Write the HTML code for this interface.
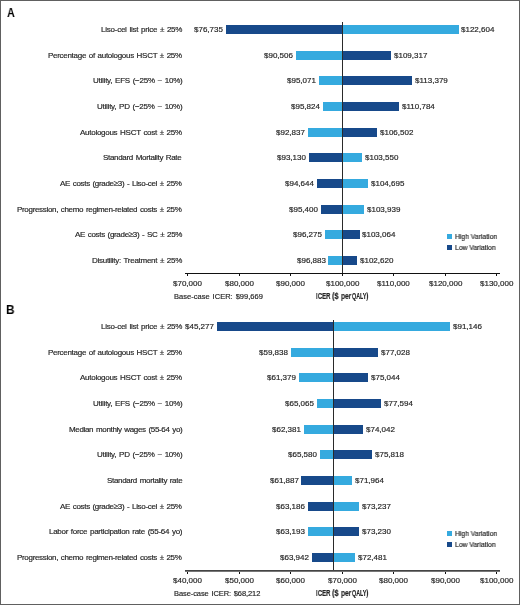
<!DOCTYPE html>
<html><head><meta charset="utf-8"><style>
html,body{margin:0;padding:0;background:#fff;}
body{width:520px;height:605px;position:relative;overflow:hidden;font-family:"Liberation Sans",sans-serif;}
.t{position:absolute;white-space:nowrap;line-height:20px;transform-origin:0 0;will-change:transform;-webkit-text-stroke:0.18px #262626;}
.r{position:absolute;}
.frame{position:absolute;left:0;top:0;width:518px;height:603px;border:1px solid #606060;}
</style></head><body>
<div class="r" style="left:226.02px;top:25.00px;width:116.28px;height:9.00px;background:#17498a"></div>
<div class="r" style="left:342.30px;top:25.00px;width:116.28px;height:9.00px;background:#35aadf"></div>
<div class="r" style="left:295.84px;top:51.00px;width:46.46px;height:9.00px;background:#35aadf"></div>
<div class="r" style="left:342.30px;top:51.00px;width:48.92px;height:9.00px;background:#17498a"></div>
<div class="r" style="left:318.99px;top:76.00px;width:23.31px;height:9.00px;background:#35aadf"></div>
<div class="r" style="left:342.30px;top:76.00px;width:69.51px;height:9.00px;background:#17498a"></div>
<div class="r" style="left:322.81px;top:102.00px;width:19.49px;height:9.00px;background:#35aadf"></div>
<div class="r" style="left:342.30px;top:102.00px;width:56.35px;height:9.00px;background:#17498a"></div>
<div class="r" style="left:307.66px;top:128.00px;width:34.64px;height:9.00px;background:#35aadf"></div>
<div class="r" style="left:342.30px;top:128.00px;width:34.64px;height:9.00px;background:#17498a"></div>
<div class="r" style="left:309.15px;top:153.00px;width:33.15px;height:9.00px;background:#17498a"></div>
<div class="r" style="left:342.30px;top:153.00px;width:19.68px;height:9.00px;background:#35aadf"></div>
<div class="r" style="left:316.82px;top:179.00px;width:25.48px;height:9.00px;background:#17498a"></div>
<div class="r" style="left:342.30px;top:179.00px;width:25.48px;height:9.00px;background:#35aadf"></div>
<div class="r" style="left:320.66px;top:205.00px;width:21.64px;height:9.00px;background:#17498a"></div>
<div class="r" style="left:342.30px;top:205.00px;width:21.65px;height:9.00px;background:#35aadf"></div>
<div class="r" style="left:325.09px;top:230.00px;width:17.21px;height:9.00px;background:#35aadf"></div>
<div class="r" style="left:342.30px;top:230.00px;width:17.21px;height:9.00px;background:#17498a"></div>
<div class="r" style="left:328.17px;top:256.00px;width:14.13px;height:9.00px;background:#35aadf"></div>
<div class="r" style="left:342.30px;top:256.00px;width:14.96px;height:9.00px;background:#17498a"></div>
<div class="r" style="left:342.00px;top:22.00px;width:1.00px;height:251.00px;background:#2a2a2a"></div>
<div class="r" style="left:185.00px;top:273.00px;width:315.00px;height:1.00px;background:#111"></div>
<div class="r" style="left:187.00px;top:274.00px;width:1.00px;height:2.00px;background:#111"></div>
<div class="r" style="left:239.00px;top:274.00px;width:1.00px;height:2.00px;background:#111"></div>
<div class="r" style="left:290.00px;top:274.00px;width:1.00px;height:2.00px;background:#111"></div>
<div class="r" style="left:342.00px;top:274.00px;width:1.00px;height:2.00px;background:#111"></div>
<div class="r" style="left:393.00px;top:274.00px;width:1.00px;height:2.00px;background:#111"></div>
<div class="r" style="left:445.00px;top:274.00px;width:1.00px;height:2.00px;background:#111"></div>
<div class="r" style="left:496.00px;top:274.00px;width:1.00px;height:2.00px;background:#111"></div>
<div class="r" style="left:446.60px;top:234.00px;width:5.00px;height:5.00px;background:#35aadf"></div>
<div class="r" style="left:446.60px;top:244.50px;width:5.00px;height:5.00px;background:#17498a"></div>
<div class="r" style="left:216.79px;top:322.00px;width:116.51px;height:9.00px;background:#17498a"></div>
<div class="r" style="left:333.30px;top:322.00px;width:116.50px;height:9.00px;background:#35aadf"></div>
<div class="r" style="left:290.76px;top:348.00px;width:42.54px;height:9.00px;background:#35aadf"></div>
<div class="r" style="left:333.30px;top:348.00px;width:44.79px;height:9.00px;background:#17498a"></div>
<div class="r" style="left:298.59px;top:373.00px;width:34.71px;height:9.00px;background:#35aadf"></div>
<div class="r" style="left:333.30px;top:373.00px;width:34.71px;height:9.00px;background:#17498a"></div>
<div class="r" style="left:317.31px;top:399.00px;width:15.99px;height:9.00px;background:#35aadf"></div>
<div class="r" style="left:333.30px;top:399.00px;width:47.66px;height:9.00px;background:#17498a"></div>
<div class="r" style="left:303.68px;top:425.00px;width:29.62px;height:9.00px;background:#35aadf"></div>
<div class="r" style="left:333.30px;top:425.00px;width:29.62px;height:9.00px;background:#17498a"></div>
<div class="r" style="left:319.93px;top:450.00px;width:13.37px;height:9.00px;background:#35aadf"></div>
<div class="r" style="left:333.30px;top:450.00px;width:38.64px;height:9.00px;background:#17498a"></div>
<div class="r" style="left:301.17px;top:476.00px;width:32.13px;height:9.00px;background:#17498a"></div>
<div class="r" style="left:333.30px;top:476.00px;width:19.06px;height:9.00px;background:#35aadf"></div>
<div class="r" style="left:307.77px;top:502.00px;width:25.53px;height:9.00px;background:#17498a"></div>
<div class="r" style="left:333.30px;top:502.00px;width:25.53px;height:9.00px;background:#35aadf"></div>
<div class="r" style="left:307.80px;top:527.00px;width:25.50px;height:9.00px;background:#35aadf"></div>
<div class="r" style="left:333.30px;top:527.00px;width:25.49px;height:9.00px;background:#17498a"></div>
<div class="r" style="left:311.61px;top:553.00px;width:21.69px;height:9.00px;background:#17498a"></div>
<div class="r" style="left:333.30px;top:553.00px;width:21.69px;height:9.00px;background:#35aadf"></div>
<div class="r" style="left:333.00px;top:319.50px;width:1.00px;height:250.50px;background:#2a2a2a"></div>
<div class="r" style="left:185.00px;top:570.00px;width:315.00px;height:1.00px;background:#444"></div>
<div class="r" style="left:185.00px;top:571.00px;width:315.00px;height:1.00px;background:#777"></div>
<div class="r" style="left:187.00px;top:572.00px;width:1.00px;height:2.00px;background:#111"></div>
<div class="r" style="left:239.00px;top:572.00px;width:1.00px;height:2.00px;background:#111"></div>
<div class="r" style="left:290.00px;top:572.00px;width:1.00px;height:2.00px;background:#111"></div>
<div class="r" style="left:342.00px;top:572.00px;width:1.00px;height:2.00px;background:#111"></div>
<div class="r" style="left:393.00px;top:572.00px;width:1.00px;height:2.00px;background:#111"></div>
<div class="r" style="left:445.00px;top:572.00px;width:1.00px;height:2.00px;background:#111"></div>
<div class="r" style="left:496.00px;top:572.00px;width:1.00px;height:2.00px;background:#111"></div>
<div class="r" style="left:446.60px;top:531.00px;width:5.00px;height:5.00px;background:#35aadf"></div>
<div class="r" style="left:446.60px;top:541.50px;width:5.00px;height:5.00px;background:#17498a"></div>
<div class="t" style="left:6.69px;top:3.00px;font-size:12.5px;color:#000;font-weight:bold;transform:scaleX(0.8588);-webkit-text-stroke:0;">A</div>
<div class="t" style="left:100.50px;top:20.00px;font-size:8px;color:#262626;font-weight:normal;letter-spacing:-0.240px;word-spacing:0.8px;">Liso-cel list price ± 25%</div>
<div class="t" style="left:194.17px;top:20.00px;font-size:8px;color:#262626;font-weight:normal;">$76,735</div>
<div class="t" style="left:461.43px;top:20.00px;font-size:8px;color:#262626;font-weight:normal;">$122,604</div>
<div class="t" style="left:48.00px;top:46.00px;font-size:8px;color:#262626;font-weight:normal;letter-spacing:-0.288px;word-spacing:0.8px;">Percentage of autologous HSCT ± 25%</div>
<div class="t" style="left:264.24px;top:46.00px;font-size:8px;color:#262626;font-weight:normal;">$90,506</div>
<div class="t" style="left:394.07px;top:46.00px;font-size:8px;color:#262626;font-weight:normal;">$109,317</div>
<div class="t" style="left:92.50px;top:71.00px;font-size:8px;color:#262626;font-weight:normal;letter-spacing:-0.240px;word-spacing:0.8px;">Utility, EFS (−25% ~ 10%)</div>
<div class="t" style="left:287.39px;top:71.00px;font-size:8px;color:#262626;font-weight:normal;">$95,071</div>
<div class="t" style="left:414.66px;top:71.00px;font-size:8px;color:#262626;font-weight:normal;">$113,379</div>
<div class="t" style="left:96.50px;top:97.00px;font-size:8px;color:#262626;font-weight:normal;letter-spacing:-0.239px;word-spacing:0.8px;">Utility, PD (−25% ~ 10%)</div>
<div class="t" style="left:290.96px;top:97.00px;font-size:8px;color:#262626;font-weight:normal;">$95,824</div>
<div class="t" style="left:401.50px;top:97.00px;font-size:8px;color:#262626;font-weight:normal;">$110,784</div>
<div class="t" style="left:80.00px;top:123.00px;font-size:8px;color:#262626;font-weight:normal;letter-spacing:-0.270px;word-spacing:0.8px;">Autologous HSCT cost ± 25%</div>
<div class="t" style="left:276.06px;top:123.00px;font-size:8px;color:#262626;font-weight:normal;">$92,837</div>
<div class="t" style="left:379.79px;top:123.00px;font-size:8px;color:#262626;font-weight:normal;">$106,502</div>
<div class="t" style="left:103.25px;top:148.00px;font-size:8px;color:#262626;font-weight:normal;letter-spacing:-0.314px;word-spacing:0.8px;">Standard Mortality Rate</div>
<div class="t" style="left:277.30px;top:148.00px;font-size:8px;color:#262626;font-weight:normal;">$93,130</div>
<div class="t" style="left:364.83px;top:148.00px;font-size:8px;color:#262626;font-weight:normal;">$103,550</div>
<div class="t" style="left:60.00px;top:174.00px;font-size:8px;color:#262626;font-weight:normal;letter-spacing:-0.319px;word-spacing:0.8px;">AE costs (grade≥3) - Liso-cel ± 25%</div>
<div class="t" style="left:284.97px;top:174.00px;font-size:8px;color:#262626;font-weight:normal;">$94,644</div>
<div class="t" style="left:370.63px;top:174.00px;font-size:8px;color:#262626;font-weight:normal;">$104,695</div>
<div class="t" style="left:17.25px;top:200.00px;font-size:8px;color:#262626;font-weight:normal;letter-spacing:-0.318px;word-spacing:0.8px;">Progression, chemo regimen-related costs ± 25%</div>
<div class="t" style="left:288.81px;top:200.00px;font-size:8px;color:#262626;font-weight:normal;">$95,400</div>
<div class="t" style="left:366.80px;top:200.00px;font-size:8px;color:#262626;font-weight:normal;">$103,939</div>
<div class="t" style="left:74.50px;top:225.00px;font-size:8px;color:#262626;font-weight:normal;letter-spacing:-0.316px;word-spacing:0.8px;">AE costs (grade≥3) - SC ± 25%</div>
<div class="t" style="left:293.24px;top:225.00px;font-size:8px;color:#262626;font-weight:normal;">$96,275</div>
<div class="t" style="left:362.36px;top:225.00px;font-size:8px;color:#262626;font-weight:normal;">$103,064</div>
<div class="t" style="left:91.75px;top:251.00px;font-size:8px;color:#262626;font-weight:normal;letter-spacing:-0.277px;word-spacing:0.8px;">Disutility: Treatment ± 25%</div>
<div class="t" style="left:296.57px;top:251.00px;font-size:8px;color:#262626;font-weight:normal;">$96,883</div>
<div class="t" style="left:360.11px;top:251.00px;font-size:8px;color:#262626;font-weight:normal;">$102,620</div>
<div class="t" style="left:173.00px;top:274.00px;font-size:8px;color:#262626;font-weight:normal;">$70,000</div>
<div class="t" style="left:225.00px;top:274.00px;font-size:8px;color:#262626;font-weight:normal;">$80,000</div>
<div class="t" style="left:276.00px;top:274.00px;font-size:8px;color:#262626;font-weight:normal;">$90,000</div>
<div class="t" style="left:325.88px;top:274.00px;font-size:8px;color:#262626;font-weight:normal;">$100,000</div>
<div class="t" style="left:377.12px;top:274.00px;font-size:8px;color:#262626;font-weight:normal;">$110,000</div>
<div class="t" style="left:428.88px;top:274.00px;font-size:8px;color:#262626;font-weight:normal;">$120,000</div>
<div class="t" style="left:479.88px;top:274.00px;font-size:8px;color:#262626;font-weight:normal;">$130,000</div>
<div class="t" style="left:173.70px;top:287.00px;font-size:7.5px;color:#262626;font-weight:normal;letter-spacing:0.027px;word-spacing:0.8px;">Base-case ICER: $99,669</div>
<div class="t" style="left:315.52px;top:286.00px;font-size:9.5px;color:#262626;font-weight:bold;transform:scaleX(0.6391);-webkit-text-stroke:0.2px #262626;">ICER</div>
<div class="t" style="left:331.81px;top:286.00px;font-size:9.5px;color:#262626;font-weight:bold;transform:scaleX(0.7742);-webkit-text-stroke:0.2px #262626;">($</div>
<div class="t" style="left:340.68px;top:286.00px;font-size:9.5px;color:#262626;font-weight:bold;transform:scaleX(0.7000);-webkit-text-stroke:0.2px #262626;">per</div>
<div class="t" style="left:351.82px;top:286.00px;font-size:9.5px;color:#262626;font-weight:bold;transform:scaleX(0.5622);-webkit-text-stroke:0.2px #262626;">QALY)</div>
<div class="t" style="left:454.51px;top:227.00px;font-size:7px;color:#262626;font-weight:normal;transform:scaleX(0.9700);">High Variation</div>
<div class="t" style="left:454.51px;top:238.00px;font-size:7px;color:#262626;font-weight:normal;transform:scaleX(0.9700);">Low Variation</div>
<div class="t" style="left:6.19px;top:300.00px;font-size:12.5px;color:#000;font-weight:bold;transform:scaleX(0.9419);-webkit-text-stroke:0;">B</div>
<div class="t" style="left:100.50px;top:317.00px;font-size:8px;color:#262626;font-weight:normal;letter-spacing:-0.240px;word-spacing:0.8px;">Liso-cel list price ± 25%</div>
<div class="t" style="left:185.19px;top:317.00px;font-size:8px;color:#262626;font-weight:normal;">$45,277</div>
<div class="t" style="left:452.65px;top:317.00px;font-size:8px;color:#262626;font-weight:normal;">$91,146</div>
<div class="t" style="left:48.00px;top:343.00px;font-size:8px;color:#262626;font-weight:normal;letter-spacing:-0.288px;word-spacing:0.8px;">Percentage of autologous HSCT ± 25%</div>
<div class="t" style="left:259.16px;top:343.00px;font-size:8px;color:#262626;font-weight:normal;">$59,838</div>
<div class="t" style="left:380.94px;top:343.00px;font-size:8px;color:#262626;font-weight:normal;">$77,028</div>
<div class="t" style="left:80.00px;top:368.00px;font-size:8px;color:#262626;font-weight:normal;letter-spacing:-0.270px;word-spacing:0.8px;">Autologous HSCT cost ± 25%</div>
<div class="t" style="left:266.99px;top:368.00px;font-size:8px;color:#262626;font-weight:normal;">$61,379</div>
<div class="t" style="left:370.86px;top:368.00px;font-size:8px;color:#262626;font-weight:normal;">$75,044</div>
<div class="t" style="left:92.50px;top:394.00px;font-size:8px;color:#262626;font-weight:normal;letter-spacing:-0.240px;word-spacing:0.8px;">Utility, EFS (−25% ~ 10%)</div>
<div class="t" style="left:285.46px;top:394.00px;font-size:8px;color:#262626;font-weight:normal;">$65,065</div>
<div class="t" style="left:383.81px;top:394.00px;font-size:8px;color:#262626;font-weight:normal;">$77,594</div>
<div class="t" style="left:68.50px;top:420.00px;font-size:8px;color:#262626;font-weight:normal;letter-spacing:-0.333px;word-spacing:0.8px;">Median monthly wages (55-64 yo)</div>
<div class="t" style="left:272.08px;top:420.00px;font-size:8px;color:#262626;font-weight:normal;">$62,381</div>
<div class="t" style="left:365.77px;top:420.00px;font-size:8px;color:#262626;font-weight:normal;">$74,042</div>
<div class="t" style="left:96.50px;top:445.00px;font-size:8px;color:#262626;font-weight:normal;letter-spacing:-0.239px;word-spacing:0.8px;">Utility, PD (−25% ~ 10%)</div>
<div class="t" style="left:288.08px;top:445.00px;font-size:8px;color:#262626;font-weight:normal;">$65,580</div>
<div class="t" style="left:374.79px;top:445.00px;font-size:8px;color:#262626;font-weight:normal;">$75,818</div>
<div class="t" style="left:106.50px;top:471.00px;font-size:8px;color:#262626;font-weight:normal;letter-spacing:-0.314px;word-spacing:0.8px;">Standard mortality rate</div>
<div class="t" style="left:269.57px;top:471.00px;font-size:8px;color:#262626;font-weight:normal;">$61,887</div>
<div class="t" style="left:355.21px;top:471.00px;font-size:8px;color:#262626;font-weight:normal;">$71,964</div>
<div class="t" style="left:60.00px;top:497.00px;font-size:8px;color:#262626;font-weight:normal;letter-spacing:-0.319px;word-spacing:0.8px;">AE costs (grade≥3) - Liso-cel ± 25%</div>
<div class="t" style="left:276.17px;top:497.00px;font-size:8px;color:#262626;font-weight:normal;">$63,186</div>
<div class="t" style="left:361.68px;top:497.00px;font-size:8px;color:#262626;font-weight:normal;">$73,237</div>
<div class="t" style="left:48.75px;top:522.00px;font-size:8px;color:#262626;font-weight:normal;letter-spacing:-0.276px;word-spacing:0.8px;">Labor force participation rate (55-64 yo)</div>
<div class="t" style="left:276.20px;top:522.00px;font-size:8px;color:#262626;font-weight:normal;">$63,193</div>
<div class="t" style="left:361.64px;top:522.00px;font-size:8px;color:#262626;font-weight:normal;">$73,230</div>
<div class="t" style="left:17.25px;top:548.00px;font-size:8px;color:#262626;font-weight:normal;letter-spacing:-0.318px;word-spacing:0.8px;">Progression, chemo regimen-related costs ± 25%</div>
<div class="t" style="left:280.01px;top:548.00px;font-size:8px;color:#262626;font-weight:normal;">$63,942</div>
<div class="t" style="left:357.84px;top:548.00px;font-size:8px;color:#262626;font-weight:normal;">$72,481</div>
<div class="t" style="left:173.00px;top:571.00px;font-size:8px;color:#262626;font-weight:normal;">$40,000</div>
<div class="t" style="left:225.00px;top:571.00px;font-size:8px;color:#262626;font-weight:normal;">$50,000</div>
<div class="t" style="left:276.00px;top:571.00px;font-size:8px;color:#262626;font-weight:normal;">$60,000</div>
<div class="t" style="left:328.00px;top:571.00px;font-size:8px;color:#262626;font-weight:normal;">$70,000</div>
<div class="t" style="left:379.00px;top:571.00px;font-size:8px;color:#262626;font-weight:normal;">$80,000</div>
<div class="t" style="left:431.00px;top:571.00px;font-size:8px;color:#262626;font-weight:normal;">$90,000</div>
<div class="t" style="left:479.88px;top:571.00px;font-size:8px;color:#262626;font-weight:normal;">$100,000</div>
<div class="t" style="left:173.70px;top:584.00px;font-size:7.5px;color:#262626;font-weight:normal;letter-spacing:-0.091px;word-spacing:0.8px;">Base-case ICER: $68,212</div>
<div class="t" style="left:315.52px;top:583.00px;font-size:9.5px;color:#262626;font-weight:bold;transform:scaleX(0.6391);-webkit-text-stroke:0.2px #262626;">ICER</div>
<div class="t" style="left:331.81px;top:583.00px;font-size:9.5px;color:#262626;font-weight:bold;transform:scaleX(0.7742);-webkit-text-stroke:0.2px #262626;">($</div>
<div class="t" style="left:340.68px;top:583.00px;font-size:9.5px;color:#262626;font-weight:bold;transform:scaleX(0.7000);-webkit-text-stroke:0.2px #262626;">per</div>
<div class="t" style="left:351.82px;top:583.00px;font-size:9.5px;color:#262626;font-weight:bold;transform:scaleX(0.5622);-webkit-text-stroke:0.2px #262626;">QALY)</div>
<div class="t" style="left:454.51px;top:524.00px;font-size:7px;color:#262626;font-weight:normal;transform:scaleX(0.9700);">High Variation</div>
<div class="t" style="left:454.51px;top:535.00px;font-size:7px;color:#262626;font-weight:normal;transform:scaleX(0.9700);">Low Variation</div>
<div class="frame"></div>
</body></html>
